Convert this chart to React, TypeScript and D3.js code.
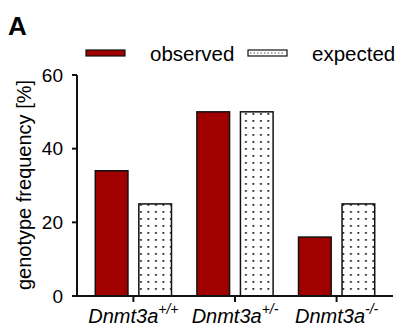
import React from "react";
import * as d3 from "d3";

const genotypes = ["+/+", "+/-", "-/-"];
const observed = [34, 50, 16];
const expected = [25, 50, 25];
const yTicks = [0, 20, 40, 60];
const seriesNames = ["observed", "expected"];

const W = 399;
const H = 329;
const MARGIN = { top: 75, right: 6, bottom: 33, left: 77 };

const App = () => {
  const innerW = W - MARGIN.left - MARGIN.right;
  const innerH = H - MARGIN.top - MARGIN.bottom;

  const x = d3.scaleBand().domain(genotypes).range([0, innerW]).paddingInner(0.25).paddingOuter(0.18);
  const y = d3.scaleLinear().domain([0, 60]).range([innerH, 0]);
  const sub = d3.scaleBand().domain(seriesNames).range([0, x.bandwidth()]).paddingInner(0.25);

  const fills: Record<string, string> = { observed: "#a00000", expected: "url(#dots)" };

  return (
    <svg width={W} height={H} style={{ position: "absolute", left: 0, top: 0 }} fontFamily="Liberation Sans, Arial, sans-serif">
      <defs>
        <pattern id="dots" width={7.5} height={7} patternUnits="userSpaceOnUse">
          <rect width={7.5} height={7} fill="white" />
          <rect x={3} y={3} width={1.8} height={1.8} fill="#222" />
        </pattern>
      </defs>
      <text x={8} y={35} fontSize={26} fontWeight="bold">A</text>

      {/* legend */}
      <rect x={86} y={50} width={39} height={6} fill="#a00000" stroke="#111" strokeWidth={1.2} />
      <text x={150} y={61} fontSize={20.5}>observed</text>
      <rect x={248} y={50} width={39} height={6} fill="white" stroke="#111" strokeWidth={1.2} />
      <line x1={250} x2={285} y1={53} y2={53} stroke="#555" strokeWidth={1} strokeDasharray="1.5,2" />
      <text x={312} y={61} fontSize={20.5}>expected</text>

      <text transform={`translate(31,185) rotate(-90)`} textAnchor="middle" fontSize={20}>
        genotype frequency [%]
      </text>

      <g transform={`translate(${MARGIN.left},${MARGIN.top})`}>
        {genotypes.map((g, i) =>
          seriesNames.map((s) => {
            const v = s === "observed" ? observed[i] : expected[i];
            return (
              <rect
                key={g + s}
                x={(x(g) ?? 0) + (sub(s) ?? 0)}
                y={y(v)}
                width={sub.bandwidth()}
                height={innerH - y(v)}
                fill={fills[s]}
                stroke="#111"
                strokeWidth={1.5}
              />
            );
          })
        )}
        <line x1={0} x2={0} y1={0} y2={innerH} stroke="#111" strokeWidth={2} />
        <line x1={0} x2={innerW} y1={innerH} y2={innerH} stroke="#111" strokeWidth={2} />
        {yTicks.map((t) => (
          <g key={t} transform={`translate(0,${y(t)})`}>
            <line x1={-5} x2={0} stroke="#111" strokeWidth={2} />
            <text x={-14} dy="0.35em" textAnchor="end" fontSize={19}>{t}</text>
          </g>
        ))}
        {genotypes.map((g) => {
          const cx = (x(g) ?? 0) + x.bandwidth() / 2;
          return (
            <g key={g} transform={`translate(${cx},${innerH})`}>
              <line y1={0} y2={6} stroke="#111" strokeWidth={2} />
              <text y={27} textAnchor="middle" fontSize={20} fontStyle="italic">
                Dnmt3a<tspan fontSize={14} dy={-9}>{g}</tspan>
              </text>
            </g>
          );
        })}
      </g>
    </svg>
  );
};

export default App;
